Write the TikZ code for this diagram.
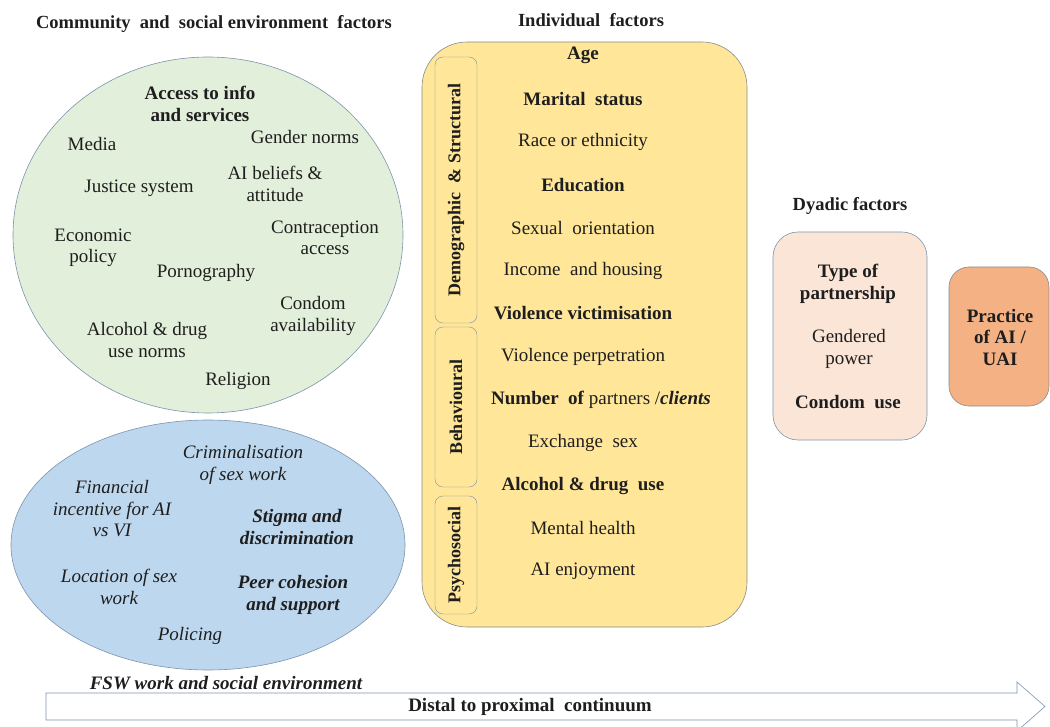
\documentclass[tikz,border=0pt]{standalone}
\usepackage{fontspec}
\setmainfont{Liberation Serif}
\usepackage{xcolor}
\usepackage{tikz}
\usetikzlibrary{shapes.geometric,positioning,calc}

\definecolor{envgreen}{HTML}{E2EFDA}
\definecolor{envblue}{HTML}{BDD7EE}
\definecolor{indyellow}{HTML}{FFE699}
\definecolor{dyadpink}{HTML}{FBE5D6}
\definecolor{outorange}{HTML}{F4B183}
\definecolor{edgeblue}{HTML}{7D93AD}
\definecolor{edgegray}{HTML}{8A8A8A}
\definecolor{txt}{HTML}{1E1E1E}

\begin{document}
\begin{tikzpicture}[x=1pt, y=-1pt,
    lbl/.style={font=\fontsize{19}{21.5}\selectfont, align=center, text=txt, inner sep=0pt},
    bold/.style={lbl, font=\fontsize{19}{21.5}\selectfont\bfseries},
    ital/.style={lbl, font=\fontsize{19}{21.5}\selectfont\itshape},
    bital/.style={lbl, font=\fontsize{19}{21.5}\selectfont\bfseries\itshape},
    heading/.style={lbl, font=\fontsize{18.5}{21}\selectfont\bfseries},
    sidebar/.style={draw=edgeblue, rounded corners=8pt, rotate=90, minimum height=42pt,
                    inner sep=0pt, text=txt, font=\fontsize{18}{21}\selectfont\bfseries},
    panel/.style={draw=edgegray, line width=0.6pt}]
    \useasboundingbox (0,0) rectangle (1050,727);

    % community and social environment
    \node[heading] (commtitle) at (214,24) {Community \ and \ social environment \ factors};
    \node[ellipse, draw=edgeblue, line width=0.6pt, fill=envgreen,
          minimum width=390pt, minimum height=356pt] (comm) at (208,235) {};
    \node[bold] (access) at (200,104) {Access to info\\and services};
    \node[lbl] (media) at (92,144) {Media};
    \node[lbl] (gender) at (305,137) {Gender norms};
    \node[lbl] (justice) at (139,188) {Justice system};
    \node[lbl] (beliefs) at (275,184) {AI beliefs \&\\attitude};
    \node[lbl] (contra) at (325,238) {Contraception\\access};
    \node[lbl] (econ) at (93,248) {Economic\\policy};
    \node[lbl] (porn) at (206,273) {Pornography};
    \node[lbl] (condav) at (313,316) {Condom\\availability};
    \node[lbl] (alcnorm) at (147,340) {Alcohol \& drug\\use norms};
    \node[lbl] (religion) at (238,381) {Religion};

    % FSW work and social environment
    \node[ellipse, draw=edgeblue, line width=0.6pt, fill=envblue,
          minimum width=394pt, minimum height=250pt] (fsw) at (208,545) {};
    \node[ital] (crim) at (243,465) {Criminalisation\\of sex work};
    \node[ital] (finance) at (112,509) {Financial\\incentive for AI\\vs VI};
    \node[bital] (stigma) at (297,527) {Stigma and\\discrimination};
    \node[ital] (location) at (119,587) {Location of sex\\work};
    \node[bital] (peer) at (293,595) {Peer cohesion\\and support};
    \node[ital] (policing) at (190,636) {Policing};
    \node[bital] (fswtitle) at (226,683) {FSW work and social environment};

    % individual factors
    \node[heading] (indtitle) at (591,20) {Individual \ factors};
    \node[panel, fill=indyellow, rounded corners=45pt,
          minimum width=325pt, minimum height=585pt] (indiv) at (584.5,334.5) {};
    \node[sidebar, minimum width=266pt] (demo) at (456,190) {Demographic \ \& Structural};
    \node[sidebar, minimum width=160pt] (behav) at (456,407) {Behavioural};
    \node[sidebar, minimum width=118pt] (psych) at (456,555) {Psychosocial};
    \node[bold] (age) at (583,55) {Age};
    \node[bold] (marital) at (583,99) {Marital \ status};
    \node[lbl] (race) at (583,142) {Race or ethnicity};
    \node[bold] (educ) at (583,185) {Education};
    \node[lbl] (sexor) at (583,228) {Sexual \ orientation};
    \node[lbl] (income) at (583,271) {Income \ and housing};
    \node[bold] (victim) at (583,313) {Violence victimisation};
    \node[lbl] (perp) at (583,357) {Violence perpetration};
    \node[lbl] (partners) at (601,400) {\textbf{Number \ of} partners /\textbf{\textit{clients}}};
    \node[lbl] (exchange) at (583,443) {Exchange \ sex};
    \node[bold] (alcuse) at (583,486) {Alcohol \& drug \ use};
    \node[lbl] (mental) at (583,528) {Mental health};
    \node[lbl] (enjoy) at (583,571) {AI enjoyment};

    % dyadic factors
    \node[heading] (dyadtitle) at (850,206) {Dyadic factors};
    \node[draw=edgeblue, line width=0.6pt, fill=dyadpink, rounded corners=25pt,
          minimum width=154pt, minimum height=208pt] (dyad) at (850,336) {};
    \node[bold] (partnership) at (848,284) {Type of\\partnership};
    \node[lbl] (power) at (849,349) {Gendered\\power};
    \node[bold] (condom) at (848,402) {Condom \ use};

    % outcome
    \node[panel, fill=outorange, rounded corners=20pt,
          minimum width=100pt, minimum height=139pt] (practice) at (999,336.5) {};
    \node[bold] (practicetxt) at (1000,337) {Practice\\of AI /\\UAI};

    % continuum arrow
    \draw[draw=edgeblue, line width=0.6pt, fill=white]
        (46,693) -- (1017,693) -- (1017,682) -- (1045,706.5) -- (1017,731)
        -- (1017,720) -- (46,720) -- cycle;
    \node[heading, font=\fontsize{19}{21}\selectfont\bfseries] (continuum) at (530,707) {Distal to proximal \ continuum};
\end{tikzpicture}
\end{document}
